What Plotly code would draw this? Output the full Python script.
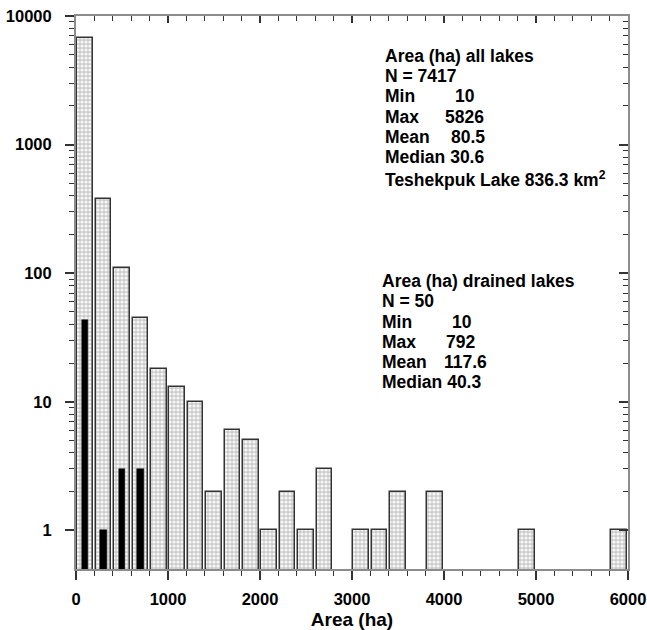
import plotly.graph_objects as go

# ---- data ----
bin_centers = [100 + 200 * i for i in range(30)]
all_lakes = [6800, 380, 110, 45, 18, 13, 10, 2, 6, 5,
             1, 2, 1, 3, None, 1, 1, 2, None, 2,
             None, None, None, None, 1, None, None, None, None, 1]
drained_centers = [100, 300, 500, 700]
drained_lakes = [43, 1, 3, 3]

x_major = [0, 1000, 2000, 3000, 4000, 5000, 6000]
x_minor = list(range(0, 6001, 200))
y_major = [1, 10, 100, 1000, 10000]
y_labels = ["1", "10", "100", "1000", "10000"]
y_minor = [m * 10 ** d for d in range(0, 4) for m in range(2, 10)]

stats_all = [("Area (ha) all lakes", None), ("N = 7417", None), ("Min", "10"),
             ("Max", "5826"), ("Mean", "80.5"), ("Median 30.6", None),
             ("Teshekpuk Lake 836.3 km<sup>2</sup>", None)]
stats_drained = [("Area (ha) drained lakes", None), ("N = 50", None), ("Min", "10"),
                 ("Max", "792"), ("Mean", "117.6"), ("Median 40.3", None)]

# ---- layout geometry (window pixels; body margin removed via post_script) ----
W, H = 647, 630
PL, PR, PT, PB = 76, 628, 16, 569          # plot area in window pixels
L, R, T, B = PL, W - PR, PT, H - PB
PW, PH = PR - PL, PB - PT

def px_x(px):
    return (px - PL) / PW

def px_y(py):
    return (PB - py) / PH

FONT = "Liberation Sans, Arial, Helvetica, sans-serif"
AXCOL = "#8c8c8c"
TICKCOL = "#333333"

fig = go.Figure()
fig.add_trace(go.Bar(
    x=bin_centers, y=all_lakes, width=170,
    marker=dict(color="#d0d0d0", line=dict(color="#333333", width=1.5),
                pattern=dict(shape=".", bgcolor="#cbcbcb", fgcolor="#f6f6f6",
                             size=4, solidity=0.5, fillmode="replace")),
    showlegend=False,
))
fig.add_trace(go.Bar(
    x=drained_centers, y=drained_lakes, width=70,
    marker=dict(color="black", line=dict(color="black", width=0.5)),
    showlegend=False,
))
# invisible trace for mirrored (inside-tick) axes
fig.add_trace(go.Scatter(x=[None], y=[None], xaxis="x2", yaxis="y2",
                         showlegend=False, hoverinfo="skip"))

yr = [-0.30103, 4]
fig.update_layout(
    width=W, height=H,
    margin=dict(l=L, r=R, t=T, b=B, autoexpand=False),
    paper_bgcolor="white", plot_bgcolor="white",
    barmode="overlay", bargap=0,
    font=dict(family=FONT, color="black"),
    xaxis=dict(range=[0, 6000], tickmode="array", tickvals=x_major, automargin=False,
               ticks="outside", ticklen=9, tickwidth=1.5, tickcolor=TICKCOL,
               minor=dict(tickmode="array", tickvals=x_minor, ticks="outside",
                          ticklen=5, tickwidth=1.2, tickcolor=TICKCOL, showgrid=False),
               showline=True, linecolor=AXCOL, linewidth=2, showgrid=False, zeroline=False,
               tickfont=dict(size=16.5, weight="bold", family=FONT),
               ticklabelstandoff=5, ticklabeloverflow="allow",
               title=dict(text="Area (ha)", font=dict(size=19, weight="bold", family=FONT),
                          standoff=6)),
    yaxis=dict(type="log", range=yr, tickmode="array", tickvals=y_major, ticktext=y_labels,
               automargin=False,
               ticks="outside", ticklen=9, tickwidth=1.5, tickcolor=TICKCOL,
               minor=dict(tickmode="array", tickvals=y_minor, ticks="outside",
                          ticklen=5, tickwidth=1.2, tickcolor=TICKCOL, showgrid=False),
               showline=True, linecolor=AXCOL, linewidth=2, showgrid=False, zeroline=False,
               tickfont=dict(size=16.5, weight="bold", family=FONT),
               ticklabelstandoff=10, ticklabeloverflow="allow"),
    xaxis2=dict(overlaying="x", side="top", anchor="y2", range=[0, 6000], automargin=False,
                tickmode="array", tickvals=x_major, ticks="inside", ticklen=7,
                tickwidth=1.5, tickcolor=TICKCOL,
                minor=dict(tickmode="array", tickvals=x_minor, ticks="inside",
                           ticklen=5, tickwidth=1.2, tickcolor=TICKCOL, showgrid=False),
                showticklabels=False, showline=True, linecolor=AXCOL, linewidth=2,
                showgrid=False, zeroline=False),
    yaxis2=dict(overlaying="y", side="right", anchor="x2", type="log", range=yr,
                automargin=False,
                tickmode="array", tickvals=y_major, ticks="inside", ticklen=9,
                tickwidth=1.5, tickcolor=TICKCOL,
                minor=dict(tickmode="array", tickvals=y_minor, ticks="inside",
                           ticklen=5, tickwidth=1.2, tickcolor=TICKCOL, showgrid=False),
                showticklabels=False, showline=True, linecolor=AXCOL, linewidth=2,
                showgrid=False, zeroline=False),
)

ann_font = dict(size=17.5, weight="bold", family=FONT, color="black")

def add_block(lines, x_label, y_centers, value_x):
    for (label, value), yc, vx in zip(lines, y_centers, value_x):
        fig.add_annotation(text=label, xref="paper", yref="paper",
                           x=px_x(x_label), y=px_y(yc), xanchor="left", yanchor="middle",
                           showarrow=False, font=ann_font)
        if value is not None:
            fig.add_annotation(text=value, xref="paper", yref="paper",
                               x=px_x(vx), y=px_y(yc), xanchor="left", yanchor="middle",
                               showarrow=False, font=ann_font)

add_block(stats_all, 383, [56, 76, 96, 117, 137, 157, 179],
          [None, None, 453, 443, 449, None, None])
add_block(stats_drained, 380, [281, 301, 322, 342, 362, 382],
          [None, None, 450, 444, 442, None])

fig.write_html("out.html", config={"displayModeBar": False},
               post_script="document.body.style.margin='0';document.body.style.overflow='hidden';")
